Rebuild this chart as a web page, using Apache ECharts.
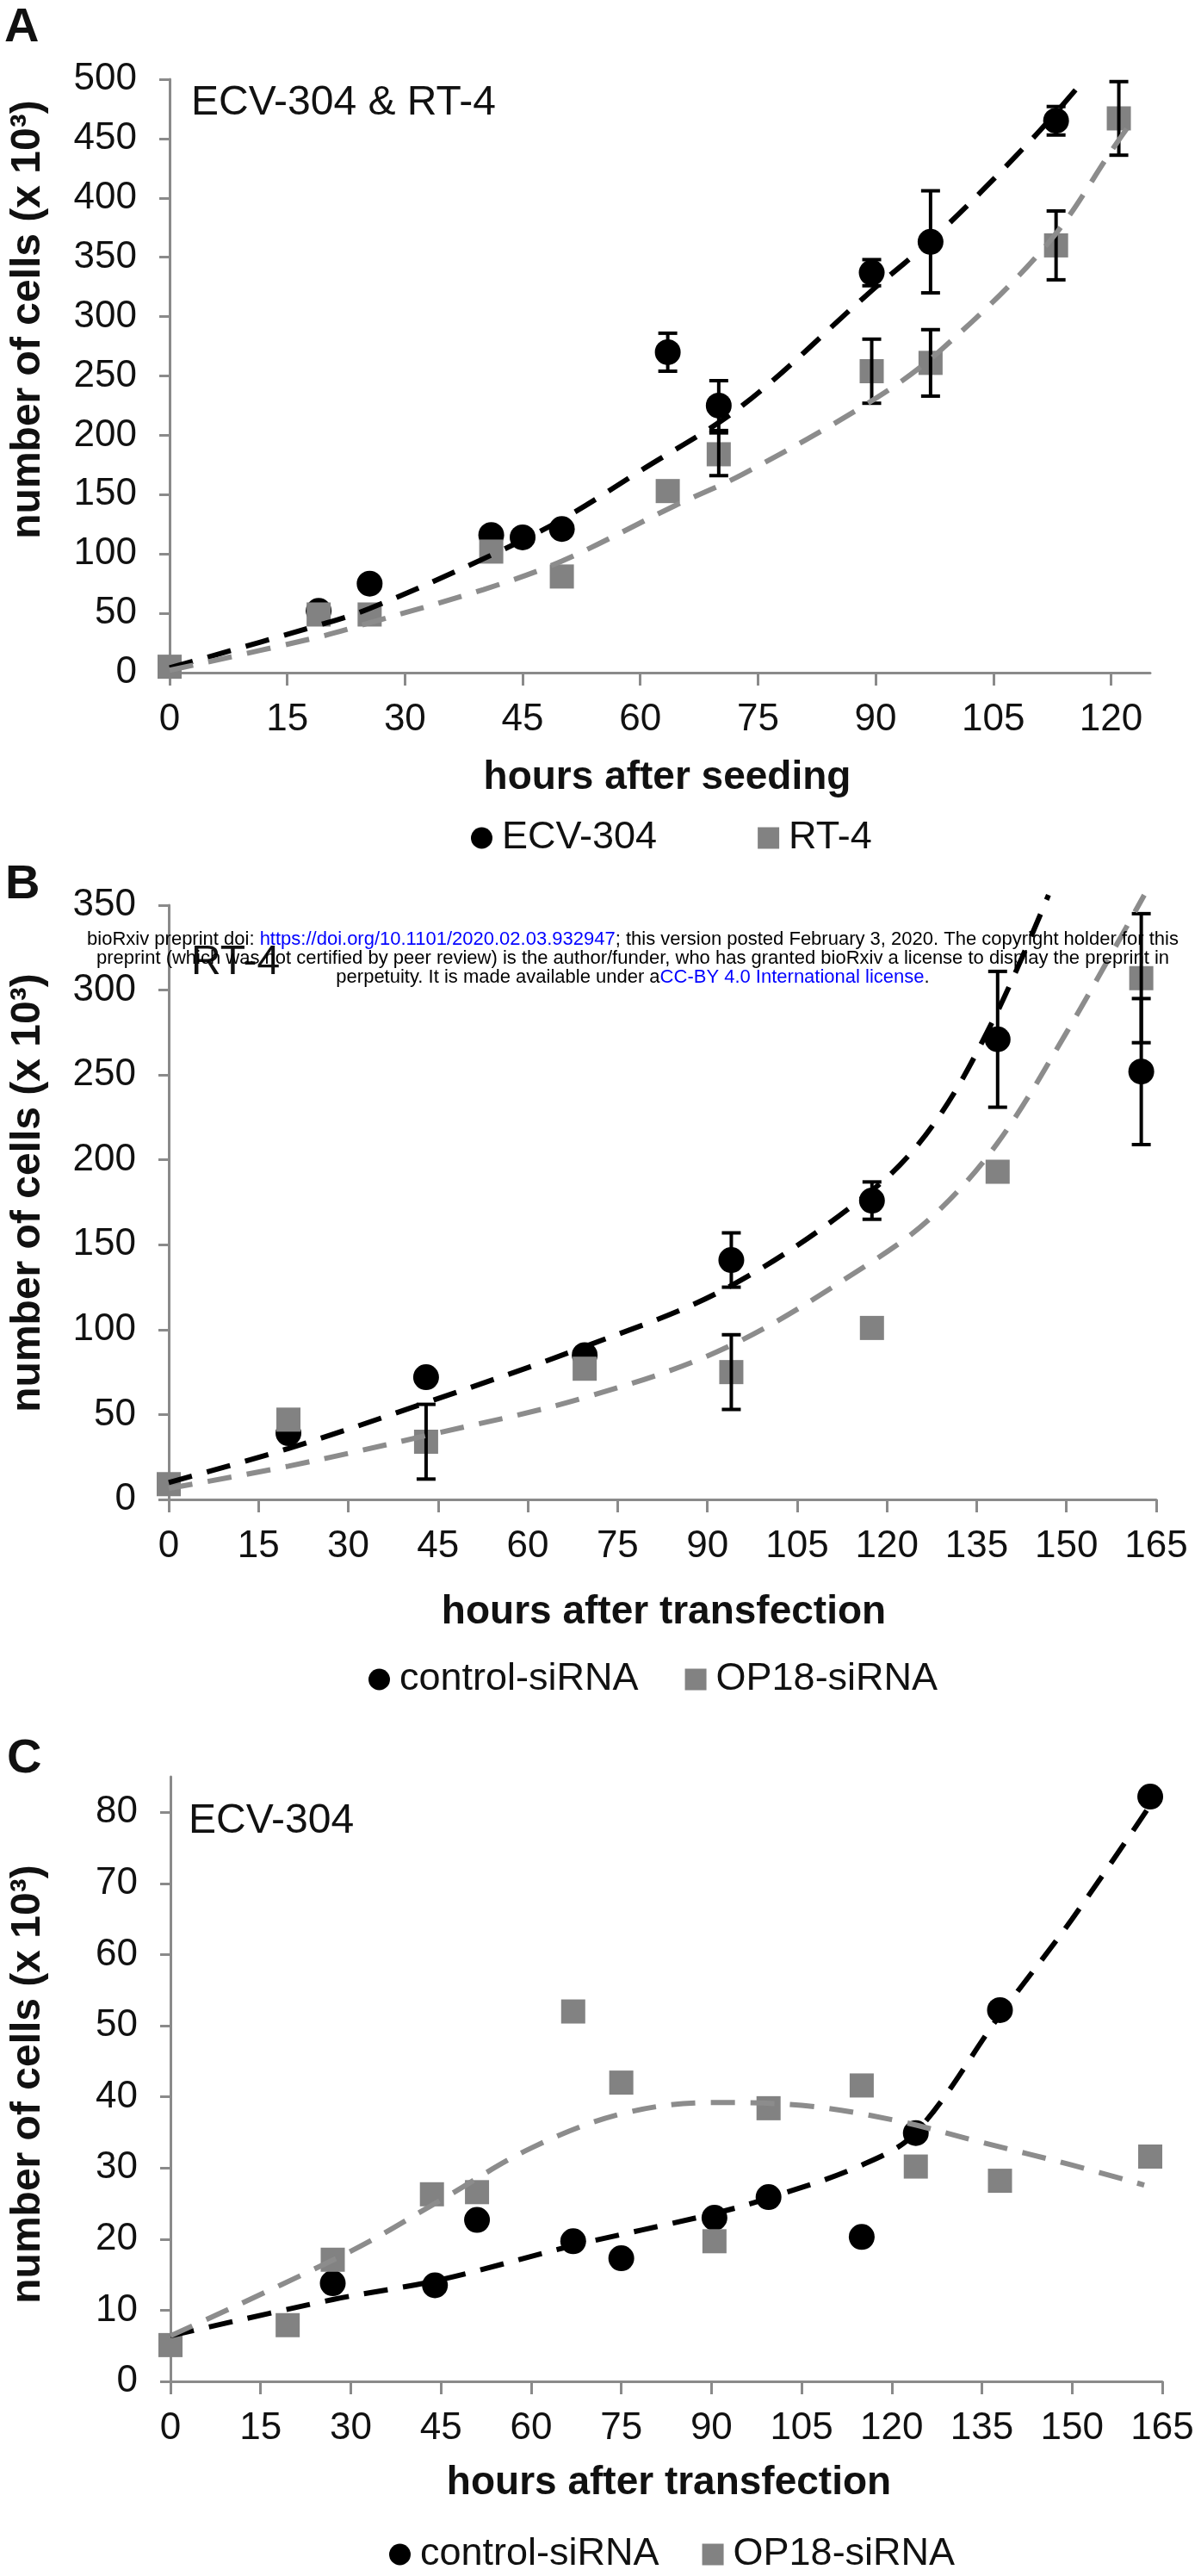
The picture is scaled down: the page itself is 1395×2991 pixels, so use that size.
<!DOCTYPE html>
<html>
<head>
<meta charset="utf-8">
<title>Cell growth curves</title>
<script src="https://cdn.jsdelivr.net/npm/echarts@6.0.0/dist/echarts.min.js"></script>
<style>
  html, body { margin: 0; padding: 0; background: #ffffff; }
  #chart { width: 1395px; height: 2991px; }
</style>
</head>
<body>
<div id="chart"></div>
<script>
// ---- panel A: ECV-304 & RT-4, hours after seeding ----
const hoursA_ecv = [19, 25.5, 41, 45, 50, 63.5, 70, 89.5, 97, 113];
const cellsA_ecv = [52, 75, 116, 114, 121, 270, 225, 337, 363, 465];
const sdA_ecv = [null, null, null, null, null, 16, 21, 11, 43, 12];
const hoursA_rt4 = [0, 19, 25.5, 41, 50, 63.5, 70, 89.5, 97, 113, 121];
const cellsA_rt4 = [5, 49, 49, 102, 81, 153, 184, 254, 261, 360, 467];
const sdA_rt4 = [null, null, null, null, null, null, 18, 27, 28, 29, 31];
// trend lines
const trendA_ecv_x = [0, 19, 25.5, 41, 50, 60, 73, 89, 98, 110, 116];
const trendA_ecv_y = [4, 40, 54, 99, 129, 170, 225, 319, 370, 450, 495];
const trendA_rt4_x = [0, 19, 25.5, 40, 50, 64.5, 73, 89, 98, 112, 120.5, 122.5];
const trendA_rt4_y = [2, 30, 42, 70, 94, 141, 167, 227, 270, 362, 444, 463];
const xTicksA = [0, 15, 30, 45, 60, 75, 90, 105, 120];
const yTicksA = [0, 50, 100, 150, 200, 250, 300, 350, 400, 450, 500];

// ---- panel B: RT-4, hours after transfection ----
const hoursB_ctrl = [20, 43, 69.5, 94, 117.5, 138.5, 162.5];
const cellsB_ctrl = [39, 72, 85, 141, 176, 271, 252];
const sdB_ctrl = [null, null, null, 16, 11, 40, 43];
const hoursB_op18 = [0, 20, 43, 69.5, 94, 117.5, 138.5, 162.5];
const cellsB_op18 = [9, 47, 34, 77, 75, 101, 193, 307];
const sdB_op18 = [null, null, 22, null, 22, null, null, 38];
const trendB_ctrl_x = [0, 20, 43, 69.5, 93.5, 117.5, 128, 138, 147];
const trendB_ctrl_y = [10, 30, 57, 90, 125, 182, 222, 284, 356];
const trendB_op18_x = [0, 20, 43, 69.5, 93.5, 117.5, 128, 138.5, 150, 163];
const trendB_op18_y = [6.5, 19.6, 37.6, 60, 90, 140, 168, 210, 275, 356];
const xTicksB = [0, 15, 30, 45, 60, 75, 90, 105, 120, 135, 150, 165];
const yTicksB = [0, 50, 100, 150, 200, 250, 300, 350];

// ---- panel C: ECV-304, hours after transfection ----
const hoursC_ctrl = [27, 44, 51, 67, 75, 90.5, 99.5, 115, 124, 138, 163];
const cellsC_ctrl = [13.8, 13.5, 22.7, 19.7, 17.3, 23, 25.9, 20.3, 34.9, 52.2, 82.2];
const hoursC_op18 = [0, 19.5, 27, 43.5, 51, 67, 75, 90.5, 99.5, 115, 124, 138, 163];
const cellsC_op18 = [5.1, 7.9, 17.1, 26.3, 26.6, 52, 42, 19.7, 38.4, 41.6, 30.2, 28.2, 31.6];
const trendC_ctrl_x = [0, 27, 45, 67, 90, 100, 115, 124, 138, 150, 163];
const trendC_ctrl_y = [6.4, 11.5, 14.3, 19.1, 23.5, 25.9, 30.4, 35, 51.5, 65, 81];
const trendC_op18_x = [0, 30, 45, 60, 75, 90, 105, 120, 135, 150, 162];
const trendC_op18_y = [6.4, 18.3, 25.5, 32.8, 37.6, 39.2, 38.8, 36.8, 33.6, 30.4, 27.6];
const xTicksC = [0, 15, 30, 45, 60, 75, 90, 105, 120, 135, 150, 165];
const yTicksC = [0, 10, 20, 30, 40, 50, 60, 70, 80];

const FONT = "'Liberation Sans', Arial, Helvetica, sans-serif";
const AXIS_GRAY = '#8a8a8a';
const BLACK = '#000000';
const GRAY = '#828282';
const TREND_GRAY = '#8c8c8c';

const zip = (xs, ys) => xs.map((x, i) => [x, ys[i]]);
// [x, low, high] for every point that has an SD
const errorData = (xs, ys, sd) =>
  xs.map((x, i) => (sd[i] == null ? null : [x, ys[i] - sd[i], ys[i] + sd[i]]))
    .filter(d => d !== null);

function renderErrorBar(params, api) {
  const top = api.coord([api.value(0), api.value(2)]);
  const bot = api.coord([api.value(0), api.value(1)]);
  const half = 11;
  const style = { stroke: BLACK, lineWidth: 4 };
  return {
    type: 'group',
    children: [
      { type: 'line', shape: { x1: top[0], y1: top[1], x2: bot[0], y2: bot[1] }, style },
      { type: 'line', shape: { x1: top[0] - half, y1: top[1], x2: top[0] + half, y2: top[1] }, style },
      { type: 'line', shape: { x1: bot[0] - half, y1: bot[1], x2: bot[0] + half, y2: bot[1] }, style }
    ]
  };
}

function xAxis(gridIndex, max, ticks) {
  return {
    type: 'value', gridIndex, min: 0, max,
    axisLine: { show: true, onZero: false, lineStyle: { color: AXIS_GRAY, width: 3 } },
    axisTick: { show: true, length: 15, customValues: ticks, lineStyle: { color: AXIS_GRAY, width: 3 } },
    axisLabel: { customValues: ticks, margin: 33, fontSize: 44, color: '#111', fontFamily: FONT },
    splitLine: { show: false }
  };
}
function yAxis(gridIndex, max, ticks) {
  return {
    type: 'value', gridIndex, min: 0, max,
    axisLine: { show: true, onZero: false, lineStyle: { color: AXIS_GRAY, width: 3 } },
    axisTick: { show: true, length: 12, customValues: ticks, lineStyle: { color: AXIS_GRAY, width: 3 } },
    axisLabel: { customValues: ticks, margin: 38, fontSize: 44, color: '#111', fontFamily: FONT },
    splitLine: { show: false }
  };
}

function markers(name, idx, xs, ys, shape, z) {
  return {
    type: 'scatter', name, xAxisIndex: idx, yAxisIndex: idx,
    symbol: shape, symbolSize: shape === 'circle' ? 30 : 28,
    itemStyle: { color: shape === 'circle' ? BLACK : GRAY, opacity: 1 },
    data: zip(xs, ys), z, silent: true
  };
}
function errorBars(name, idx, xs, ys, sd, z) {
  return {
    type: 'custom', name, xAxisIndex: idx, yAxisIndex: idx,
    renderItem: renderErrorBar, encode: { x: 0, y: [1, 2] },
    data: errorData(xs, ys, sd), clip: false, z, silent: true
  };
}
function trend(name, idx, xs, ys, color) {
  return {
    type: 'line', name, xAxisIndex: idx, yAxisIndex: idx,
    data: zip(xs, ys), smooth: 0.35, symbol: 'none', clip: false,
    lineStyle: { color, width: 6, type: [28, 18], cap: 'butt' },
    z: 8, silent: true
  };
}

function legend(left, top, items, gap) {
  return {
    left, top, padding: 0, itemGap: gap, itemWidth: 25, itemHeight: 25,
    selectedMode: false,
    textStyle: { fontSize: 45, fontFamily: FONT, color: '#111', padding: [0, 0, 0, 6], lineHeight: 50 },
    data: items
  };
}

function label(text, x, y, size, bold) {
  return {
    type: 'text', x, y, z: 50,
    style: {
      text, fill: '#111', fontSize: size, fontFamily: FONT,
      fontWeight: bold ? 'bold' : 'normal', textVerticalAlign: 'middle'
    }
  };
}
function centered(text, x, y, size) {
  const el = label(text, x, y, size, true);
  el.style.textAlign = 'center';
  return el;
}
function yTitle(y) {
  const el = centered('number of cells (x 10³)', 33, y, 48);
  el.rotation = Math.PI / 2;
  return el;
}

const chart = echarts.init(document.getElementById('chart'), null, { renderer: 'canvas' });

const option = {
  backgroundColor: '#ffffff',
  animation: false,
  grid: [
    { left: 197, top: 92, width: 1139, height: 689 },
    { left: 196, top: 1051, width: 1147, height: 690 },
    { left: 198, top: 2063, width: 1152, height: 702 }
  ],
  xAxis: [xAxis(0, 125, xTicksA), xAxis(1, 165, xTicksB), xAxis(2, 165, xTicksC)],
  yAxis: [yAxis(0, 500, yTicksA), yAxis(1, 350, yTicksB), yAxis(2, 85, yTicksC)],
  legend: [
    legend(547, 948, [{ name: 'ECV-304', icon: 'circle' }, { name: 'RT-4', icon: 'rect' }], 117),
    legend(428, 1925, [{ name: 'control-siRNA', icon: 'circle' }, { name: 'OP18-siRNA', icon: 'rect' }], 54),
    legend(452, 2941, [{ name: 'control-siRNA', icon: 'circle' }, { name: 'OP18-siRNA', icon: 'rect' }], 50)
  ],
  series: [
    markers('ECV-304', 0, hoursA_ecv, cellsA_ecv, 'circle', 2),
    errorBars('ECV-304 SD', 0, hoursA_ecv, cellsA_ecv, sdA_ecv, 3),
    markers('RT-4', 0, hoursA_rt4, cellsA_rt4, 'rect', 4),
    errorBars('RT-4 SD', 0, hoursA_rt4, cellsA_rt4, sdA_rt4, 5),
    trend('ECV-304 trend', 0, trendA_ecv_x, trendA_ecv_y, BLACK),
    trend('RT-4 trend', 0, trendA_rt4_x, trendA_rt4_y, TREND_GRAY),

    markers('control-siRNA', 1, hoursB_ctrl, cellsB_ctrl, 'circle', 2),
    errorBars('control-siRNA SD B', 1, hoursB_ctrl, cellsB_ctrl, sdB_ctrl, 3),
    markers('OP18-siRNA', 1, hoursB_op18, cellsB_op18, 'rect', 4),
    errorBars('OP18-siRNA SD B', 1, hoursB_op18, cellsB_op18, sdB_op18, 5),
    trend('control-siRNA trend B', 1, trendB_ctrl_x, trendB_ctrl_y, BLACK),
    trend('OP18-siRNA trend B', 1, trendB_op18_x, trendB_op18_y, TREND_GRAY),

    markers('control-siRNA', 2, hoursC_ctrl, cellsC_ctrl, 'circle', 2),
    markers('OP18-siRNA', 2, hoursC_op18, cellsC_op18, 'rect', 4),
    trend('control-siRNA trend C', 2, trendC_ctrl_x, trendC_ctrl_y, BLACK),
    trend('OP18-siRNA trend C', 2, trendC_op18_x, trendC_op18_y, TREND_GRAY)
  ],
  graphic: [
    label('A', 5, 33, 56, true),
    label('B', 6, 1028, 56, true),
    label('C', 8, 2043, 56, true),
    label('ECV-304 & RT-4', 222, 120, 48, false),
    label('RT-4', 222, 1118, 48, false),
    label('ECV-304', 219, 2115, 48, false),
    centered('hours after seeding', 775, 903, 46),
    centered('hours after transfection', 771, 1872, 46),
    centered('hours after transfection', 777, 2883, 46),
    yTitle(371),
    yTitle(1385),
    yTitle(2420),
    {
      type: 'text', x: 735, y: 1080, z: 100,
      style: {
        text: '{k|bioRxiv preprint doi: }{u|https://doi.org/10.1101/2020.02.03.932947}{k|; this version posted February 3, 2020. The copyright holder for this}\n' +
              '{k|preprint (which was not certified by peer review) is the author/funder, who has granted bioRxiv a license to display the preprint in}\n' +
              '{k|perpetuity. It is made available under a}{u|CC-BY 4.0 International license}{k|.}',
        textAlign: 'center', textVerticalAlign: 'top',
        fontSize: 22, fontFamily: FONT, fill: '#000',
        rich: {
          k: { fill: '#000000', fontSize: 22, fontFamily: FONT, lineHeight: 22 },
          u: { fill: '#0000ff', fontSize: 22, fontFamily: FONT, lineHeight: 22 }
        }
      }
    }
  ]
};

chart.setOption(option);
</script>
</body>
</html>
